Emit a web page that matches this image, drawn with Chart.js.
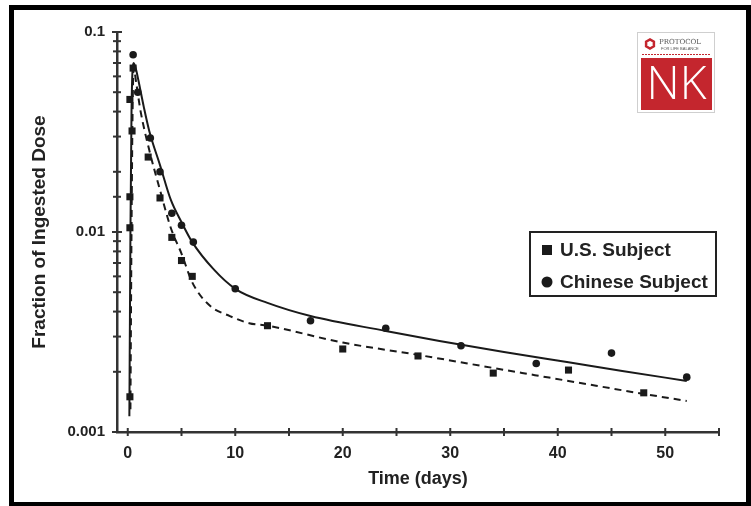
<!DOCTYPE html>
<html>
<head>
<meta charset="utf-8">
<script src="https://cdn.jsdelivr.net/npm/chart.js@4"></script>
<style>
  body { margin: 0; background: #fff; }
  #wrap { width: 751px; height: 506px; }
</style>
</head>
<body>
<div id="wrap"><canvas id="grafico" width="751" height="506"></canvas></div>
<script>
// Measured points (days, fraction of ingested dose)
const usDays = [0.2, 0.2, 0.2, 0.2, 0.4, 0.5, 1.9, 3.0, 4.1, 5.0, 6.0, 13, 20, 27, 34, 41, 48];
const usDose = [0.0015, 0.0105, 0.015, 0.046, 0.032, 0.066, 0.0237, 0.0148, 0.0094, 0.0072, 0.006, 0.0034, 0.0026, 0.0024, 0.00197, 0.00204, 0.00157];

const cnDays = [0.5, 0.93, 2.1, 3.0, 4.1, 5.0, 6.1, 10, 17, 24, 31, 38, 45, 52];
const cnDose = [0.077, 0.05, 0.0295, 0.02, 0.0124, 0.0108, 0.0089, 0.0052, 0.0036, 0.0033, 0.0027, 0.0022, 0.00248, 0.00188];

// Fitted curves
const cnFitDays = [0.15, 0.25, 0.35, 0.55, 0.8, 1.0, 1.5, 2, 3, 4, 5, 6, 8, 10, 13, 17, 24, 29, 35, 41, 46, 52];
const cnFitDose = [0.0012, 0.01, 0.04, 0.07, 0.064, 0.057, 0.042, 0.032, 0.0216, 0.0145, 0.0112, 0.0089, 0.0065, 0.0052, 0.00442, 0.0038, 0.0032, 0.00285, 0.00251, 0.00223, 0.00202, 0.0018];

const usFitDays = [0.25, 0.35, 0.45, 0.55, 0.8, 1.2, 2, 3, 4, 5, 6, 7.6, 9.5, 11.3, 13, 20, 27, 34, 41, 48, 52];
const usFitDose = [0.0013, 0.01, 0.04, 0.066, 0.055, 0.04, 0.0257, 0.0162, 0.0105, 0.0078, 0.0056, 0.0043, 0.0038, 0.0035, 0.0034, 0.0028, 0.00243, 0.00209, 0.0018, 0.00155, 0.00143];

const xTitulo = 'Time (days)';
const yTitulo = 'Fraction of Ingested Dose';

const fuente = '"Liberation Sans", Arial, sans-serif';
const tinta = '#1a1a1a';

function puntos(xs, ys) {
    return xs.map((x, i) => ({ x: x, y: ys[i] }));
}

const decorPlugin = {
    id: 'decor',
    beforeDraw(chart) {
        const ctx = chart.ctx;
        ctx.save();
        ctx.fillStyle = '#fff';
        ctx.fillRect(0, 0, chart.width, chart.height);
        ctx.restore();
    },
    afterDraw(chart) {
        const { ctx, chartArea, scales } = chart;
        ctx.save();

        // tick marks crossing both axes
        ctx.strokeStyle = '#333';
        ctx.lineWidth = 2;
        scales.y.ticks.forEach(t => {
            const py = scales.y.getPixelForValue(t.value);
            const lg = Math.log10(t.value);
            const len = Math.abs(lg - Math.round(lg)) < 1e-6 ? 5 : 4;
            ctx.beginPath();
            ctx.moveTo(chartArea.left - len, py);
            ctx.lineTo(chartArea.left + len, py);
            ctx.stroke();
        });
        scales.x.ticks.forEach(t => {
            const px = scales.x.getPixelForValue(t.value);
            ctx.beginPath();
            ctx.moveTo(px, chartArea.bottom - 4);
            ctx.lineTo(px, chartArea.bottom + 4);
            ctx.stroke();
        });

        // legend box
        const ds = chart.data.datasets;
        ctx.lineWidth = 2;
        ctx.strokeStyle = '#222';
        ctx.strokeRect(530, 232, 186, 64);
        ctx.fillStyle = tinta;
        ctx.fillRect(542, 245, 10, 10);
        ctx.beginPath();
        ctx.arc(547, 282, 5.5, 0, Math.PI * 2);
        ctx.fill();
        ctx.font = 'bold 19px ' + fuente;
        ctx.textBaseline = 'middle';
        ctx.textAlign = 'left';
        ctx.fillStyle = '#222';
        ctx.fillText(ds[0].label, 560, 251);
        ctx.fillText(ds[1].label, 560, 283, 154);

        // logo
        ctx.fillStyle = '#fff';
        ctx.fillRect(637, 32, 78, 81);
        ctx.strokeStyle = '#cfcfcf';
        ctx.lineWidth = 1;
        ctx.strokeRect(637.5, 32.5, 77, 80);
        ctx.fillStyle = '#c4262e';
        ctx.fillRect(641, 58, 71, 52);
        ctx.strokeStyle = '#c4262e';
        ctx.lineWidth = 2.5;
        ctx.beginPath();
        for (let k = 0; k < 6; k++) {
            const a = Math.PI / 6 + k * Math.PI / 3;
            const hx = 650 + 4.5 * Math.cos(a), hy = 44 + 4.5 * Math.sin(a);
            if (k === 0) ctx.moveTo(hx, hy); else ctx.lineTo(hx, hy);
        }
        ctx.closePath();
        ctx.stroke();
        ctx.lineWidth = 1;
        ctx.setLineDash([2, 1]);
        ctx.beginPath();
        ctx.moveTo(642, 54.5);
        ctx.lineTo(711, 54.5);
        ctx.stroke();
        ctx.setLineDash([]);
        ctx.fillStyle = '#555';
        ctx.font = '7px "DejaVu Serif", serif';
        ctx.fillText('PROTOCOL', 659, 42);
        ctx.font = '4px ' + fuente;
        ctx.fillText('FOR LIFE BALANCE', 661, 49);
        ctx.fillStyle = '#fff';
        ctx.font = '300 46px "Open Sans", sans-serif';
        ctx.textAlign = 'center';
        ctx.fillText('NK', 676.5, 86);

        // outer frame
        ctx.strokeStyle = '#000';
        ctx.lineWidth = 5;
        ctx.strokeRect(11.5, 7.5, 737, 497);
        ctx.restore();
    }
};

const ctx = document.getElementById('grafico').getContext('2d');
new Chart(ctx, {
    type: 'scatter',
    data: {
        datasets: [
            {
                label: 'U.S. Subject',
                data: puntos(usDays, usDose),
                pointStyle: 'rect',
                pointRadius: 5,
                backgroundColor: tinta,
                borderColor: tinta,
                borderWidth: 0,
                order: 1
            },
            {
                label: 'Chinese Subject',
                data: puntos(cnDays, cnDose),
                pointStyle: 'circle',
                pointRadius: 3.8,
                backgroundColor: tinta,
                borderColor: tinta,
                borderWidth: 0,
                order: 1
            },
            {
                label: 'U.S. fit',
                data: puntos(usFitDays, usFitDose),
                showLine: true,
                pointRadius: 0,
                borderColor: tinta,
                borderWidth: 2,
                borderDash: [7, 5],
                cubicInterpolationMode: 'monotone',
                order: 2
            },
            {
                label: 'Chinese fit',
                data: puntos(cnFitDays, cnFitDose),
                showLine: true,
                pointRadius: 0,
                borderColor: tinta,
                borderWidth: 2,
                cubicInterpolationMode: 'monotone',
                order: 2
            }
        ]
    },
    options: {
        responsive: false,
        animation: false,
        layout: { padding: { top: 32, right: 32, left: 0, bottom: 0 } },
        plugins: {
            legend: { display: false },
            tooltip: { enabled: false }
        },
        scales: {
            x: {
                type: 'linear',
                min: -1,
                max: 55,
                afterFit: s => { s.height = 74; },
                grid: { display: false, drawTicks: false },
                border: { display: true, color: '#333', width: 2.5 },
                ticks: {
                    stepSize: 5,
                    includeBounds: false,
                    autoSkip: false,
                    maxRotation: 0,
                    padding: 12,
                    color: '#222',
                    font: { family: fuente, weight: 'bold', size: 16 },
                    callback: v => (v % 10 === 0 ? String(v) : '')
                },
                title: {
                    display: true,
                    text: xTitulo,
                    color: '#222',
                    font: { family: fuente, weight: 'bold', size: 18 },
                    padding: { top: 0, bottom: 16 }
                }
            },
            y: {
                type: 'logarithmic',
                min: 0.001,
                max: 0.1,
                afterFit: s => { s.width = 117; },
                grid: { display: false, drawTicks: false },
                border: { display: true, color: '#333', width: 2.5 },
                ticks: {
                    autoSkip: false,
                    padding: 12,
                    color: '#222',
                    font: { family: fuente, weight: 'bold', size: 15 },
                    callback: v => {
                        const lg = Math.log10(v);
                        return Math.abs(lg - Math.round(lg)) < 1e-6 ? String(v) : '';
                    }
                },
                title: {
                    display: true,
                    text: yTitulo,
                    color: '#222',
                    font: { family: fuente, weight: 'bold', size: 19 },
                    padding: { top: 28, bottom: 0 }
                }
            }
        }
    },
    plugins: [decorPlugin]
});
</script>
</body>
</html>
